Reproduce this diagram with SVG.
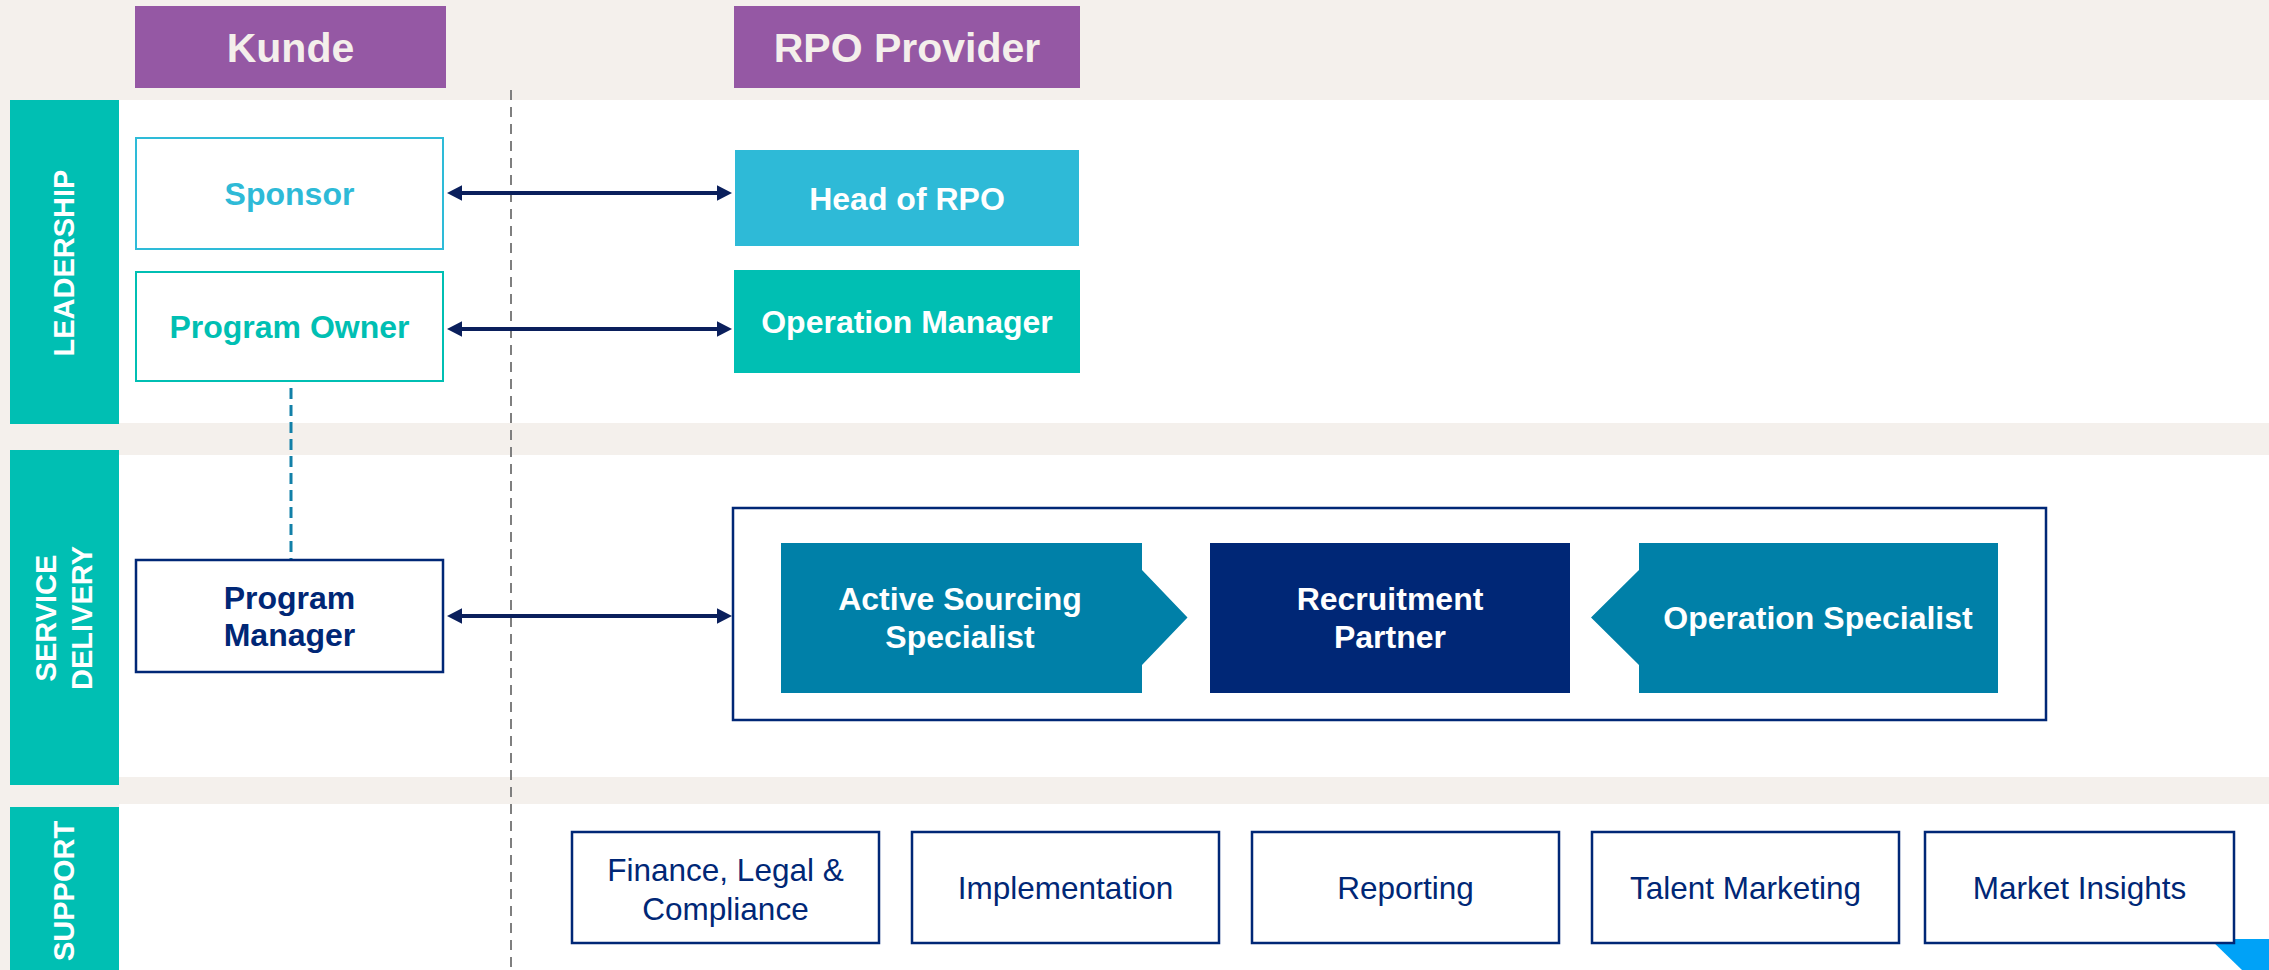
<svg xmlns="http://www.w3.org/2000/svg" width="2269" height="970" viewBox="0 0 2269 970">
<style>
text{font-family:"Liberation Sans",Arial,sans-serif;}
.b{font-weight:bold;font-size:32px;}
.hdr{font-weight:bold;font-size:41px;fill:#F4EFEB;text-anchor:middle;}
.lbl{font-weight:bold;font-size:29px;fill:#FFFFFF;text-anchor:middle;}
.w{fill:#FFFFFF;text-anchor:middle;}
.navy{fill:#002776;text-anchor:middle;}
.sup{font-size:31.5px;fill:#002776;text-anchor:middle;}
.supbox{fill:#FFFFFF;stroke:#002776;stroke-width:2.5;}
.teal{fill:#00BFB3;}
.sd{fill:#0080A8;}
.arrow{stroke:#0A1F5C;stroke-width:4;fill:none;marker-start:url(#ah);marker-end:url(#ah);}
</style>
<defs>
<marker id="ah" markerUnits="userSpaceOnUse" markerWidth="16" markerHeight="16" refX="7" refY="7.8" orient="auto-start-reverse">
<path d="M0,0 L15,7.8 L0,15.6 z" fill="#0A1F5C"/>
</marker>
</defs>
<g id="background">
<rect x="0" y="0" width="2269" height="970" fill="#F4F0EC"/>
<rect x="119" y="100" width="2150" height="323" fill="#FFFFFF"/>
<rect x="119" y="455" width="2150" height="322" fill="#FFFFFF"/>
<rect x="119" y="804" width="2150" height="166" fill="#FFFFFF"/>
<line x1="511" y1="90" x2="511" y2="970" stroke="#7F7F7F" stroke-width="2" stroke-dasharray="10 7"/>
<polygon points="2210,939 2269,939 2269,970 2242,970" fill="#00A2F7"/>
</g>
<g id="lane-leadership">
<rect class="teal" x="10" y="100" width="109" height="324"/>
<text class="lbl" transform="translate(74,263) rotate(-90)">LEADERSHIP</text>
</g>
<g id="lane-service-delivery">
<rect class="teal" x="10" y="450" width="109" height="335"/>
<text class="lbl" transform="translate(56,618) rotate(-90)">SERVICE</text>
<text class="lbl" transform="translate(92,618) rotate(-90)">DELIVERY</text>
</g>
<g id="lane-support">
<rect class="teal" x="10" y="807" width="109" height="163"/>
<text class="lbl" transform="translate(74,891) rotate(-90)">SUPPORT</text>
</g>
<g id="header-kunde">
<rect x="135" y="6" width="311" height="82" fill="#9558A4"/>
<text class="hdr" x="290.5" y="62">Kunde</text>
</g>
<g id="header-rpo-provider">
<rect x="734" y="6" width="346" height="82" fill="#9558A4"/>
<text class="hdr" x="907" y="62">RPO Provider</text>
</g>
<g id="connectors">
<line class="arrow" x1="455" y1="193" x2="724" y2="193"/>
<line class="arrow" x1="455" y1="329" x2="724" y2="329"/>
<line class="arrow" x1="455" y1="616" x2="724" y2="616"/>
<line x1="291" y1="388" x2="291" y2="560" stroke="#1280A8" stroke-width="3" stroke-dasharray="11 6"/>
</g>
<g id="node-sponsor">
<rect x="136" y="138" width="307" height="111" fill="#FFFFFF" stroke="#2EBBD8" stroke-width="2"/>
<text class="b" x="289.5" y="205" fill="#2EBAD7" text-anchor="middle">Sponsor</text>
</g>
<g id="node-program-owner">
<rect x="136" y="272" width="307" height="109" fill="#FFFFFF" stroke="#00BFB3" stroke-width="2"/>
<text class="b" x="289.5" y="338" fill="#00BFB3" text-anchor="middle">Program Owner</text>
</g>
<g id="node-head-of-rpo">
<rect x="735" y="150" width="344" height="96" fill="#2EBAD7"/>
<text class="b w" x="907" y="209.5">Head of RPO</text>
</g>
<g id="node-operation-manager">
<rect class="teal" x="734" y="270" width="346" height="103"/>
<text class="b w" x="907" y="333">Operation Manager</text>
</g>
<g id="node-program-manager">
<rect x="136" y="560" width="307" height="112" fill="#FFFFFF" stroke="#002776" stroke-width="2.5"/>
<text class="b navy" x="289.5" y="609">Program</text>
<text class="b navy" x="289.5" y="646">Manager</text>
</g>
<g id="node-delivery-team">
<rect x="733" y="508" width="1313" height="212" fill="#FFFFFF" stroke="#002776" stroke-width="2.5"/>
<g id="node-active-sourcing-specialist">
<polygon class="sd" points="781,543 1142,543 1142,570 1187.5,617.5 1142,665 1142,693 781,693"/>
<text class="b w" x="960" y="610">Active Sourcing</text>
<text class="b w" x="960" y="648">Specialist</text>
</g>
<g id="node-recruitment-partner">
<rect x="1210" y="543" width="360" height="150" fill="#002776"/>
<text class="b w" x="1390" y="610">Recruitment</text>
<text class="b w" x="1390" y="648">Partner</text>
</g>
<g id="node-operation-specialist">
<polygon class="sd" points="1639,543 1998,543 1998,693 1639,693 1639,665 1591,617.5 1639,570"/>
<text class="b w" x="1818" y="629">Operation Specialist</text>
</g>
</g>
<g id="node-finance">
<rect class="supbox" x="572" y="832" width="307" height="111"/>
<text class="sup" x="725.5" y="881">Finance, Legal &amp;</text>
<text class="sup" x="725.5" y="920">Compliance</text>
</g>
<g id="node-implementation">
<rect class="supbox" x="912" y="832" width="307" height="111"/>
<text class="sup" x="1065.5" y="899">Implementation</text>
</g>
<g id="node-reporting">
<rect class="supbox" x="1252" y="832" width="307" height="111"/>
<text class="sup" x="1405.5" y="899">Reporting</text>
</g>
<g id="node-talent-marketing">
<rect class="supbox" x="1592" y="832" width="307" height="111"/>
<text class="sup" x="1745.5" y="899">Talent Marketing</text>
</g>
<g id="node-market-insights">
<rect class="supbox" x="1925" y="832" width="309" height="111"/>
<text class="sup" x="2079.5" y="899">Market Insights</text>
</g>
</svg>
